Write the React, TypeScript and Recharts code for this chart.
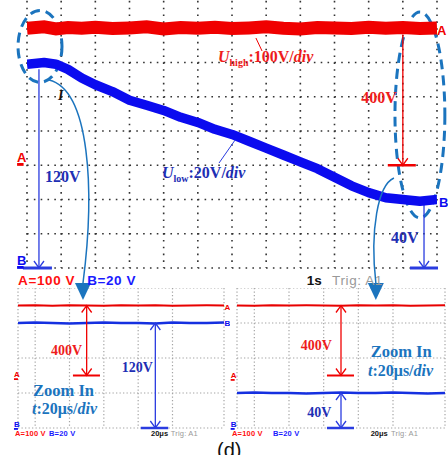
import React from 'react';
import {
  ComposedChart, Line, XAxis, YAxis, CartesianGrid,
  ReferenceLine, ReferenceDot, ReferenceArea
} from 'recharts';

// slow sweep, 1 s/div
const sweepTime = [0, 0.5, 0.85, 1.2, 1.6, 2, 2.5, 3, 3.5, 4, 4.5, 5, 5.5, 6, 6.5, 7, 7.5, 8, 8.5, 9, 9.5, 10, 10.5, 11, 11.5, 12];
const uHighSweep = [400, 404, 398, 402, 400, 403, 399, 401, 404, 398, 402, 400, 403, 399, 401, 404, 400, 398, 402, 401, 399, 403, 400, 402, 399, 401];
const uLowSweep = [119, 120, 119, 116, 111, 107, 103, 98, 95, 92, 88, 85, 81, 78, 74, 70, 66, 62, 58, 53, 48, 44, 41, 40, 39, 40];

// zoomed captures, 20 us/div
const zoomTime = [0, 20, 40, 60, 80, 100, 120, 140, 160, 180, 200, 220, 240];
const uHighStart = [400, 401, 399, 401, 400, 399, 401, 400, 401, 399, 400, 401, 400];
const uLowStart = [120, 120.5, 120, 119.5, 120, 120.5, 120, 120, 119.5, 120.5, 120, 120, 120.5];
const uHighEnd = [400, 399, 401, 400, 401, 400, 399, 401, 400, 401, 399, 400, 401];
const uLowEnd = [40, 40.5, 40, 40, 39.5, 40, 40.5, 40, 40, 40.5, 40, 39.5, 40];

// grid ticks
const sweepTicks = [0, 1, 2, 3, 4, 5, 6, 7, 8, 9, 10, 11, 12];
const zoomTicks = [0, 20, 40, 60, 80, 100, 120, 140, 160, 180, 200, 220, 240];
const voltTicksB = [0, 20, 40, 60, 80, 100, 120, 140, 160];

const RED = '#f00000';
const BLUE = '#0b0bef';
const RED_TXT = '#ee1c1c';
const BLUE_TXT = '#1e2fb4';
const BLUE_LINE = '#2a3ce0';
const STEEL = '#1b74be';
const SERIF = '"Liberation Serif", "Times New Roman", serif';
const SANS = '"Liberation Sans", Arial, sans-serif';

const pairs = (t: number[], v: number[]) => t.map((x, i) => ({ t: x, v: v[i] }));

const label = (key: string, x: number, y: number, axis: string, content: React.ReactNode, props: any) => (
  <ReferenceDot
    key={key} xAxisId="t" yAxisId={axis} x={x} y={y} r={0} ifOverflow="visible"
    shape={(p: any) => <text x={p.cx} y={p.cy} {...props}>{content}</text>}
  />
);

const groundMark = (key: string, x: number, y: number, letter: string, color: string, size: number) => (
  <ReferenceDot
    key={key} xAxisId="t" yAxisId="B" x={x} y={y} r={0} ifOverflow="visible"
    shape={(p: any) => (
      <g>
        <text x={p.cx} y={p.cy} fill={color} fontFamily={SANS} fontWeight="bold" fontSize={size}>{letter}</text>
        <rect x={p.cx} y={p.cy + 1} width={size * 0.5} height={size * 0.22} fill={color} />
      </g>
    )}
  />
);

const vArrow = (key: string, x: number, from: number, to: number, axis: string, color: string, both: boolean) => (
  <ReferenceLine
    key={key} xAxisId="t" yAxisId={axis} segment={[{ x, y: from }, { x, y: to }]} ifOverflow="visible"
    shape={(p: any) => {
      const { x1, y1, x2, y2 } = p;
      return (
        <g fill="none" stroke={color} strokeWidth={1.3}>
          <line x1={x1} y1={y1} x2={x2} y2={y2} />
          <path d={`M${x2 - 5},${y2 - 7}L${x2},${y2}L${x2 + 5},${y2 - 7}`} />
          {both && <path d={`M${x1 - 5},${y1 + 7}L${x1},${y1}L${x1 + 5},${y1 + 7}`} />}
        </g>
      );
    }}
  />
);

const hTick = (key: string, x1: number, x2: number, y: number, axis: string, color: string, w: number) => (
  <ReferenceLine
    key={key} xAxisId="t" yAxisId={axis} segment={[{ x: x1, y }, { x: x2, y }]}
    ifOverflow="visible" stroke={color} strokeWidth={w}
  />
);

const pointer = (key: string, a: [number, number], b: [number, number], color: string) => (
  <ReferenceLine
    key={key} xAxisId="t" yAxisId="B" segment={[{ x: a[0], y: a[1] }, { x: b[0], y: b[1] }]}
    ifOverflow="visible" stroke={color} strokeWidth={1}
  />
);

const ellipse = (key: string, x1: number, x2: number, y1: number, y2: number) => (
  <ReferenceArea
    key={key} xAxisId="t" yAxisId="B" x1={x1} x2={x2} y1={y1} y2={y2} ifOverflow="visible"
    shape={(p: any) => (
      <ellipse
        cx={p.x + p.width / 2} cy={p.y + p.height / 2} rx={p.width / 2} ry={p.height / 2}
        fill="none" stroke={STEEL} strokeWidth={3} strokeDasharray="10 6"
      />
    )}
  />
);

const curvedArrow = (key: string, a: [number, number], b: [number, number], bend: number[]) => (
  <ReferenceLine
    key={key} xAxisId="t" yAxisId="B" segment={[{ x: a[0], y: a[1] }, { x: b[0], y: b[1] }]} ifOverflow="visible"
    shape={(p: any) => {
      const { x1, y1, x2, y2 } = p;
      const by = y2 - 17;
      const d = `M${x1},${y1} C${x1 + bend[0]},${y1 + bend[1]} ${x2 + bend[2]},${by + bend[3]} ${x2},${by}`;
      return (
        <g>
          <path d={d} fill="none" stroke={STEEL} strokeWidth={1.5} />
          <polygon points={`${x2 - 8},${by} ${x2 + 8},${by} ${x2},${y2}`} fill={STEEL} />
        </g>
      );
    }}
  />
);

const axes = (domainT: number[], ticksT: number[]) => [
  <XAxis key="xt" xAxisId="t" type="number" dataKey="t" domain={domainT} ticks={ticksT} hide allowDataOverflow />,
  <YAxis key="ya" yAxisId="A" type="number" domain={[-300, 500]} hide allowDataOverflow />,
  <YAxis key="yb" yAxisId="B" type="number" domain={[0, 160]} ticks={voltTicksB} hide allowDataOverflow />,
];

const bottomLabels = (t: number[], y: number, size: number, sweep: string, spacing: number) => [
  label('bA', t[0], y, 'B', 'A=100 V', { fill: '#ff1010', fontFamily: SANS, fontWeight: 'bold', fontSize: size, letterSpacing: spacing }),
  label('bB', t[1], y, 'B', 'B=20 V', { fill: '#1a1aff', fontFamily: SANS, fontWeight: 'bold', fontSize: size, letterSpacing: spacing }),
  label('bT', t[2], y, 'B', sweep, { fill: '#111', fontFamily: SANS, fontWeight: 'bold', fontSize: size }),
  label('bG', t[3], y, 'B', 'Trig: A1', { fill: '#999', fontFamily: SANS, fontSize: size, letterSpacing: spacing }),
];

const zoomText = (t: number[], v: number[]) => [
  label('z1', t[0], v[0], 'B', 'Zoom In', { fill: STEEL, fontFamily: SERIF, fontWeight: 'bold', fontSize: 16.5 }),
  label('z2', t[1], v[1], 'B', (
    <>
      <tspan fontStyle="italic">t</tspan>:20μs/<tspan fontStyle="italic">div</tspan>
    </>
  ), { fill: STEEL, fontFamily: SERIF, fontWeight: 'bold', fontSize: 16 }),
];

const MainSweep = () => (
  <ComposedChart width={448} height={320} margin={{ top: 0, right: 11, bottom: 46, left: 27 }}>
    {axes([0, 12], sweepTicks)}
    <CartesianGrid xAxisId="t" yAxisId="B" stroke="#333" strokeWidth={1.6} strokeDasharray="1.6 5.23" />
    {vArrow('aL', 0.35, 116, 0, 'B', BLUE_LINE, false)}
    {hTick('tL', -0.12, 0.73, 0, 'B', BLUE_LINE, 3)}
    {vArrow('aR', 11.0, 382, 0, 'A', RED, false)}
    {hTick('tR', 10.56, 11.38, 0, 'A', RED, 2.5)}
    {vArrow('aB', 11.62, 37, 0, 'B', BLUE_LINE, false)}
    {hTick('tB', 11.21, 12.03, 0, 'B', BLUE_LINE, 3)}
    <Line xAxisId="t" yAxisId="A" data={pairs(sweepTime, uHighSweep)} dataKey="v" stroke={RED}
      strokeWidth={13} dot={false} type="linear" isAnimationActive={false} />
    <Line xAxisId="t" yAxisId="B" data={pairs(sweepTime, uLowSweep)} dataKey="v" stroke={BLUE}
      strokeWidth={9.5} strokeLinejoin="round" dot={false} type="linear" isAnimationActive={false} />
    {ellipse('eL', -0.263, 1.024, 108.4, 150.4)}
    {ellipse('eR', 10.77, 12.23, 29.2, 149.5)}
    {curvedArrow('cL', [0.644, 109.8], [1.639, -18.7], [41, 10, 12, -93])}
    {curvedArrow('cR', [10.74, 52.55], [10.21, -18.7], [-16, 7, -6, -53])}
    {pointer('pH', [6.7, 134.3], [6.88, 126.7], RED)}
    {pointer('pL', [5.62, 61.3], [6.09, 74.7], BLUE_LINE)}
    {label('uh', 5.59, 120.3, 'B', (
      <>
        <tspan fontStyle="italic">U</tspan>
        <tspan fontSize={10} dy={4}>high</tspan>
        <tspan dy={-4}>:100V/</tspan>
        <tspan fontStyle="italic">div</tspan>
      </>
    ), { fill: RED_TXT, fontFamily: SERIF, fontWeight: 'bold', fontSize: 16 })}
    {label('ul', 3.95, 52.6, 'B', (
      <>
        <tspan fontStyle="italic">U</tspan>
        <tspan fontSize={10} dy={4}>low</tspan>
        <tspan dy={-4}>:20V/</tspan>
        <tspan fontStyle="italic">div</tspan>
      </>
    ), { fill: BLUE_TXT, fontFamily: SERIF, fontWeight: 'bold', fontSize: 16 })}
    {label('v400', 9.78, 96.4, 'B', '400V', { fill: RED_TXT, fontFamily: SERIF, fontWeight: 'bold', fontSize: 16 })}
    {label('v120', 0.53, 50.2, 'B', '120V', { fill: BLUE_TXT, fontFamily: SERIF, fontWeight: 'bold', fontSize: 16 })}
    {label('v40', 10.65, 14.6, 'B', '40V', { fill: BLUE_TXT, fontFamily: SERIF, fontWeight: 'bold', fontSize: 16 })}
    {label('cur', 0.91, 98, 'B', 'I', { fill: '#111', fontFamily: SERIF, fontWeight: 'bold', fontStyle: 'italic', fontSize: 14 })}
    {label('endA', 12.0, 136, 'B', 'A', { fill: RED, fontFamily: SANS, fontWeight: 'bold', fontSize: 13 })}
    {label('endB', 12.06, 35.6, 'B', 'B', { fill: BLUE, fontFamily: SANS, fontWeight: 'bold', fontSize: 13 })}
    {groundMark('gA', -0.29, 61.9, 'A', RED, 13)}
    {groundMark('gB', -0.29, 1.75, 'B', BLUE, 13)}
    {bottomLabels([-0.26, 1.76, 8.19, 8.93], -9.9, 13.5, '1s', 0.6)}
  </ComposedChart>
);

const ZoomPanel = (props: {
  width: number; left: number; right: number;
  high: number[]; low: number[]; extras: React.ReactNode[];
}) => (
  <ComposedChart width={props.width} height={160} margin={{ top: 0, right: props.right, bottom: 20, left: props.left }}>
    {axes([0, 240], zoomTicks)}
    <CartesianGrid xAxisId="t" yAxisId="B" stroke="#a4a4a4" strokeWidth={1.2} strokeDasharray="1.3 2.2" />
    <Line xAxisId="t" yAxisId="A" data={pairs(zoomTime, props.high)} dataKey="v" stroke="#e80000"
      strokeWidth={2} dot={false} type="linear" isAnimationActive={false} />
    <Line xAxisId="t" yAxisId="B" data={pairs(zoomTime, props.low)} dataKey="v" stroke="#1530e0"
      strokeWidth={2.5} dot={false} type="linear" isAnimationActive={false} />
    {props.extras}
  </ComposedChart>
);

const startExtras = [
  vArrow('ra', 80, 400, 0, 'A', RED, true),
  hTick('rt', 64, 95.5, 0, 'A', RED, 2),
  vArrow('ba', 160, 120, 0, 'B', BLUE_LINE, true),
  hTick('bt', 143, 175, 0, 'B', BLUE_LINE, 2.5),
  label('l400', 38.4, 83.4, 'B', '400V', { fill: RED_TXT, fontFamily: SERIF, fontWeight: 'bold', fontSize: 14 }),
  label('l120', 121, 64, 'B', '120V', { fill: BLUE_TXT, fontFamily: SERIF, fontWeight: 'bold', fontSize: 14 }),
  ...zoomText([17.5, 16.3], [36.6, 16]),
  label('eA', 240.5, 134.9, 'B', 'A', { fill: RED, fontFamily: SANS, fontWeight: 'bold', fontSize: 8 }),
  label('eB', 240.5, 116.6, 'B', 'B', { fill: BLUE, fontFamily: SANS, fontWeight: 'bold', fontSize: 8 }),
  groundMark('gA', -4.7, 58, 'A', RED, 8),
  groundMark('gB', -4.7, 1.1, 'B', BLUE, 8),
  ...bottomLabels([-3.5, 36.1, 155, 178], -9.1, 7.5, '20μs', 0.2),
];

const endExtras = [
  vArrow('ra', 120, 400, 0, 'A', RED, true),
  hTick('rt', 103.8, 135, 0, 'A', RED, 2),
  vArrow('ba', 120, 40, 0, 'B', BLUE_LINE, true),
  hTick('bt', 103.8, 135, 0, 'B', BLUE_LINE, 2.5),
  label('l400', 73.5, 89.1, 'B', '400V', { fill: RED_TXT, fontFamily: SERIF, fontWeight: 'bold', fontSize: 14 }),
  label('l40', 81.2, 12.6, 'B', '40V', { fill: BLUE_TXT, fontFamily: SERIF, fontWeight: 'bold', fontSize: 14 }),
  ...zoomText([154.2, 151.2], [81.1, 59.4]),
  groundMark('gA', -7.3, 57.1, 'A', RED, 8),
  groundMark('gB', -7.3, 1.1, 'B', BLUE, 8),
  ...bottomLabels([-5.8, 41.5, 154.2, 177.7], -9.1, 7.5, '20μs', 0.2),
];

export default function App() {
  return (
    <div style={{ position: 'absolute', left: 0, top: 0, width: 448, height: 455, overflow: 'hidden', background: '#fff' }}>
      <div style={{ position: 'absolute', left: 0, top: 288 }}>
        <ZoomPanel width={230} left={18} right={6} high={uHighStart} low={uLowStart} extras={startExtras} />
      </div>
      <div style={{ position: 'absolute', left: 224, top: 288 }}>
        <ZoomPanel width={224} left={13} right={3} high={uHighEnd} low={uLowEnd} extras={endExtras} />
      </div>
      <div style={{ position: 'absolute', left: 0, top: -6 }}>
        <MainSweep />
      </div>
      <div style={{ position: 'absolute', left: 217, top: 439, fontFamily: SANS, fontSize: 20, color: '#111' }}>(d)</div>
    </div>
  );
}
